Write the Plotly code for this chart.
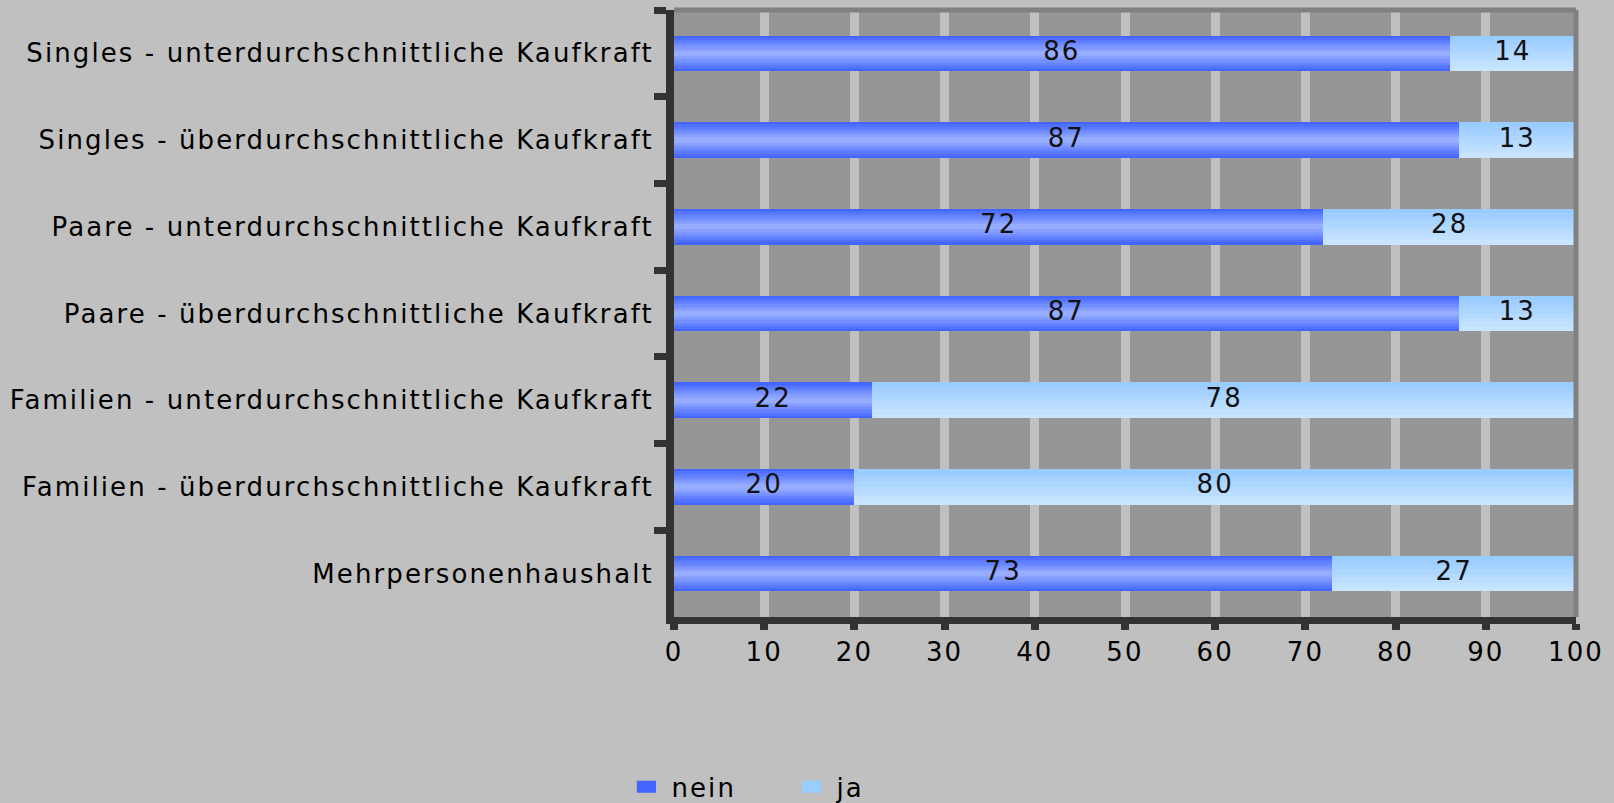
import plotly.graph_objects as go

# Survey shares (percent) per household type
categories = [
    "Singles - unterdurchschnittliche Kaufkraft",
    "Singles - überdurchschnittliche Kaufkraft",
    "Paare - unterdurchschnittliche Kaufkraft",
    "Paare - überdurchschnittliche Kaufkraft",
    "Familien - unterdurchschnittliche Kaufkraft",
    "Familien - überdurchschnittliche Kaufkraft",
    "Mehrpersonenhaushalt",
]
nein = [86, 87, 72, 87, 22, 20, 73]
ja = [14, 13, 28, 13, 78, 80, 27]
x_ticks = [0, 10, 20, 30, 40, 50, 60, 70, 80, 90, 100]

FONT = "DejaVu Sans"
FS = 26
BAR_W = 0.41


def mix(c1, c2, t):
    return "rgb({},{},{})".format(*[round(a + (b - a) * t) for a, b in zip(c1, c2)])


fig = go.Figure()

# "nein": symmetric gradient, dark edges -> light centre (stacked overlays)
n_layers = 8
dark_blue, light_blue = (68, 102, 255), (150, 172, 255)
for k in range(n_layers):
    t = k / (n_layers - 1)
    w = BAR_W * (1 - 0.85 * t)
    fig.add_trace(go.Bar(
        y=categories, x=nein, base=[0] * len(nein), orientation="h",
        width=w, offset=-w / 2,
        marker=dict(color=mix(dark_blue, light_blue, t), line_width=0),
        name="nein", legendgroup="nein", showlegend=(k == 0),
        hoverinfo="skip",
    ))

# "ja": vertical gradient, darker top -> lighter bottom
j_layers = 8
ja_top, ja_bottom = (153, 204, 255), (200, 228, 255)
for k in range(j_layers):
    t = k / (j_layers - 1)
    h = BAR_W * (1 - t * (1 - 1 / j_layers))
    fig.add_trace(go.Bar(
        y=categories, x=ja, base=nein, orientation="h",
        width=h, offset=BAR_W / 2 - h,
        marker=dict(color=mix(ja_top, ja_bottom, t), line_width=0),
        name="ja", legendgroup="ja", showlegend=(k == 0),
        hoverinfo="skip",
    ))

# value labels centred in each segment
fig.add_trace(go.Scatter(
    y=categories + categories,
    x=[n / 2 for n in nein] + [n + j / 2 for n, j in zip(nein, ja)],
    text=[str(v) for v in nein + ja],
    mode="text", textposition="middle center",
    textfont=dict(family=FONT, size=FS, color="#111111"),
    showlegend=False, hoverinfo="skip",
))

# darker frame on top and right of the plot area
fig.add_shape(type="line", xref="paper", yref="paper", x0=0, x1=1, y0=1, y1=1,
              line=dict(color="#808080", width=5), layer="above")
fig.add_shape(type="line", xref="paper", yref="paper", x0=1, x1=1, y0=0, y1=1,
              line=dict(color="#808080", width=5), layer="above")

fig.update_layout(
    width=1614, height=803,
    margin=dict(l=674, r=38, t=10, b=186),
    paper_bgcolor="#c0c0c0", plot_bgcolor="#969696",
    barmode="overlay", bargap=0,
    font=dict(family=FONT, size=FS, color="#000000"),
    showlegend=True,
    legend=dict(
        orientation="h", xref="container", yref="container",
        x=0.385, xanchor="left", y=0.02, yanchor="middle",
        font=dict(family=FONT, size=FS, color="#000000"),
        bgcolor="rgba(0,0,0,0)", traceorder="normal",
        itemwidth=40,
        entrywidth=110, entrywidthmode="pixels",
    ),
    xaxis=dict(
        range=[0, 100], tickvals=x_ticks, ticktext=[str(v) for v in x_ticks],
        showgrid=True, gridcolor="#c0c0c0", gridwidth=9,
        showline=True, linecolor="#333333", linewidth=7,
        ticks="outside", ticklen=6, tickwidth=8, tickcolor="#333333",
        tickfont=dict(family=FONT, size=FS, color="#000000"),
        zeroline=False, fixedrange=True,
    ),
    yaxis=dict(
        type="category", categoryorder="array", categoryarray=categories,
        autorange="reversed", tickson="boundaries",
        showgrid=False, showline=True, linecolor="#333333", linewidth=8,
        ticks="outside", ticklen=12, tickwidth=7, tickcolor="#333333",
        tickfont=dict(family=FONT, size=FS, color="#000000"),
        ticklabelstandoff=7,
        zeroline=False, fixedrange=True,
    ),
)

# widen the lettering of every text element and stretch the legend swatches
post_js = """
var gd = document.getElementById('{plot_id}');
gd.querySelectorAll('svg text').forEach(function (t) {
    t.style.letterSpacing = '2.1px';
});
gd.querySelectorAll('.legend .legendpoints path').forEach(function (p) {
    var tr = p.getAttribute('transform') || '';
    p.setAttribute('transform', tr + ' scale(1.6,1)');
});
"""

fig.write_html("out.html", post_script=post_js)
